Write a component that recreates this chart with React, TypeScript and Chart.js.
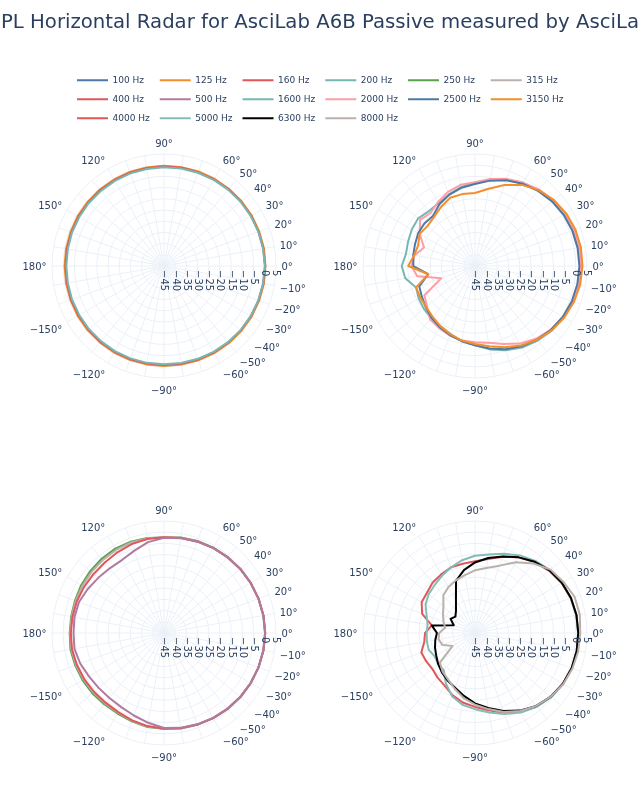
import React, { useEffect, useRef } from 'react';
import { Chart, registerables } from 'chart.js';

Chart.register(...registerables);

// ---------------- data ----------------
const TITLE = 'SPL Horizontal Radar for AsciLab A6B Passive measured by AsciLab';

// measurement angles (degrees), values below follow this order
const THETA = [-180, -170, -160, -150, -140, -130, -120, -110, -100, -90, -80, -70, -60, -50, -40, -30, -20, -10,
  0, 10, 20, 30, 40, 50, 60, 70, 80, 90, 100, 110, 120, 130, 140, 150, 160, 170];

const R_MIN = -45;
const R_MAX = 5;
const R_STEP = 5;
const ANGULAR_TICKS = [0, 10, 20, 30, 40, 50, 60, 90, 120, 150, 180, -150, -120, -90, -60, -50, -40, -30, -20, -10];

const FREQUENCIES = ['100 Hz', '125 Hz', '160 Hz', '200 Hz', '250 Hz', '315 Hz', '400 Hz', '500 Hz', '1600 Hz',
  '2000 Hz', '2500 Hz', '3150 Hz', '4000 Hz', '5000 Hz', '6300 Hz', '8000 Hz'];

const SPL_100 = [-0.9, -0.9, -0.8, -0.8, -0.7, -0.7, -0.7, -0.6, -0.7, -0.7, -0.6, -0.5, -0.4, -0.3, -0.2, -0.1, 0.0, 0.1,
  0.2, 0.1, 0.0, -0.1, -0.1, -0.2, -0.3, -0.4, -0.5, -0.5, -0.6, -0.6, -0.7, -0.7, -0.8, -0.8, -0.9, -0.9];
const SPL_125 = [-0.6, -0.6, -0.6, -0.5, -0.5, -0.5, -0.4, -0.4, -0.4, -0.4, -0.3, -0.2, -0.1, 0.0, 0.1, 0.2, 0.2, 0.3,
  0.3, 0.3, 0.2, 0.2, 0.1, 0.0, 0.0, -0.1, -0.2, -0.2, -0.3, -0.3, -0.4, -0.4, -0.5, -0.5, -0.6, -0.6];
const SPL_160 = [-1.0, -1.0, -0.9, -0.9, -0.9, -0.8, -0.8, -0.8, -0.8, -0.8, -0.7, -0.6, -0.5, -0.4, -0.3, -0.2, -0.1, 0.0,
  0.1, 0.0, -0.1, -0.1, -0.2, -0.3, -0.4, -0.5, -0.5, -0.6, -0.7, -0.7, -0.8, -0.8, -0.9, -0.9, -1.0, -1.0];
const SPL_200 = [-1.4, -1.4, -1.3, -1.3, -1.2, -1.2, -1.1, -1.1, -1.1, -1.1, -1.0, -0.9, -0.7, -0.6, -0.4, -0.3, -0.2, -0.1,
  0.0, -0.1, -0.2, -0.3, -0.4, -0.5, -0.6, -0.7, -0.8, -0.9, -1.0, -1.0, -1.1, -1.2, -1.2, -1.3, -1.3, -1.4];

const SPL_250 = [-2.9, -2.6, -2.8, -3.0, -3.2, -3.5, -3.5, -3.0, -2.4, -2.2, -1.7, -1.4, -1.1, -0.8, -0.5, -0.3, -0.1, 0.0,
  0.1, 0.0, -0.1, -0.3, -0.5, -0.8, -1.0, -1.3, -1.7, -2.4, -1.9, -1.6, -1.5, -1.7, -2.0, -2.3, -2.7, -2.9];
const SPL_315 = [-3.1, -3.0, -3.2, -3.5, -3.8, -4.0, -3.9, -3.3, -2.6, -2.2, -1.8, -1.5, -1.1, -0.8, -0.5, -0.3, -0.1, 0.0,
  0.1, 0.0, -0.1, -0.3, -0.5, -0.8, -1.1, -1.4, -1.8, -2.3, -2.1, -2.0, -2.2, -2.5, -2.7, -2.9, -3.0, -3.1];
const SPL_400 = [-3.4, -3.3, -3.6, -3.9, -4.2, -4.4, -4.2, -3.5, -2.8, -2.3, -1.9, -1.5, -1.1, -0.8, -0.5, -0.3, -0.1, 0.1,
  0.2, 0.1, -0.1, -0.3, -0.5, -0.8, -1.1, -1.5, -1.9, -2.3, -2.4, -2.8, -3.4, -3.9, -4.0, -3.8, -3.6, -3.5];
const SPL_500 = [-4.6, -4.4, -5.2, -6.3, -6.9, -7.1, -6.8, -5.8, -4.3, -2.6, -2.0, -1.6, -1.2, -0.9, -0.6, -0.3, -0.1, 0.1,
  0.2, 0.1, -0.1, -0.3, -0.6, -0.9, -1.2, -1.6, -2.0, -2.5, -3.8, -6.0, -7.4, -7.3, -6.7, -5.7, -4.6, -4.4];

const SPL_1600 = [-12.3, -13.4, -17.0, -16.0, -15.2, -14.6, -14.0, -12.8, -11.0, -9.6, -7.2, -5.0, -3.0, -1.5, -0.2, 0.9, 1.6, 2.0,
  2.2, 2.1, 1.8, 1.2, 0.3, -0.9, -2.3, -3.9, -5.8, -7.8, -9.2, -11.0, -12.6, -13.0, -11.9, -12.4, -13.2, -13.7];
const SPL_2000 = [-16.7, -18.8, -29.0, -18.9, -17.1, -13.8, -13.0, -12.0, -11.2, -11.0, -10.2, -8.0, -5.0, -2.6, -0.8, 0.6, 1.5, 2.0,
  2.2, 2.3, 2.1, 1.6, 0.7, -0.5, -2.0, -3.6, -5.6, -7.6, -8.2, -9.8, -12.0, -14.1, -13.0, -16.5, -20.8, -17.6];
const SPL_2500 = [-17.5, -23.8, -18.5, -17.6, -16.3, -14.8, -13.5, -12.2, -10.9, -9.6, -7.6, -5.5, -3.6, -2.0, -0.7, 0.3, 1.0, 1.4,
  1.6, 1.5, 1.2, 0.7, -0.1, -1.2, -2.6, -4.3, -6.3, -8.4, -9.6, -11.2, -13.2, -15.8, -15.5, -15.7, -16.5, -17.0];
const SPL_3150 = [-15.2, -23.8, -17.0, -16.8, -16.5, -15.5, -14.0, -12.6, -11.2, -10.2, -8.6, -6.4, -4.0, -2.0, -0.3, 1.0, 2.0, 2.7,
  3.0, 3.0, 2.7, 2.0, 0.9, -0.8, -3.2, -6.5, -10.0, -12.4, -12.4, -12.6, -14.6, -16.5, -17.3, -16.4, -18.0, -17.4];

const SPL_4000 = [-22.7, -22.0, -19.5, -19.8, -20.1, -19.0, -17.9, -15.5, -13.5, -12.0, -10.0, -7.0, -4.5, -2.3, -0.8, 0.3, 0.9, 1.1,
  1.1, 1.0, 0.5, -0.4, -1.8, -3.6, -6.0, -8.8, -11.5, -13.0, -13.6, -13.8, -14.8, -15.6, -17.0, -17.5, -19.9, -25.4];
const SPL_5000 = [-23.4, -23.2, -23.0, -24.2, -23.5, -23.3, -19.0, -15.0, -12.5, -11.0, -9.0, -6.5, -4.0, -2.0, -0.5, 0.5, 1.0, 1.1,
  1.0, 0.9, 0.6, -0.1, -1.3, -3.0, -5.0, -7.3, -9.4, -10.5, -12.0, -13.8, -15.5, -17.0, -18.0, -19.5, -22.0, -23.5];
const SPL_6300 = [-28.0, -27.0, -26.0, -25.0, -23.5, -22.0, -20.5, -19.0, -16.5, -13.6, -11.0, -8.0, -5.0, -2.5, -0.8, 0.3, 0.9, 1.1,
  1.1, 1.0, 0.6, -0.2, -1.5, -3.5, -6.0, -8.6, -11.0, -13.5, -16.5, -20.2, -28.0, -31.8, -33.6, -32.4, -34.9, -25.4];
const SPL_8000 = [-29.0, -28.5, -29.5, -33.5, -24.5, -22.5, -21.0, -18.5, -15.5, -13.0, -10.5, -7.5, -4.8, -2.5, -0.8, 0.5, 1.3, 1.8,
  2.0, 2.5, 2.3, 0.6, -1.0, -4.5, -8.5, -13.0, -15.5, -17.0, -18.8, -20.0, -21.3, -23.0, -26.6, -28.5, -30.0, -31.5];

const SERIES: Record<string, number[]> = {
  '100 Hz': SPL_100, '125 Hz': SPL_125, '160 Hz': SPL_160, '200 Hz': SPL_200,
  '250 Hz': SPL_250, '315 Hz': SPL_315, '400 Hz': SPL_400, '500 Hz': SPL_500,
  '1600 Hz': SPL_1600, '2000 Hz': SPL_2000, '2500 Hz': SPL_2500, '3150 Hz': SPL_3150,
  '4000 Hz': SPL_4000, '5000 Hz': SPL_5000, '6300 Hz': SPL_6300, '8000 Hz': SPL_8000,
};

const PANEL_FREQUENCIES = [
  ['100 Hz', '125 Hz', '160 Hz', '200 Hz'],
  ['1600 Hz', '2000 Hz', '2500 Hz', '3150 Hz'],
  ['250 Hz', '315 Hz', '400 Hz', '500 Hz'],
  ['4000 Hz', '5000 Hz', '6300 Hz', '8000 Hz'],
];

// ---------------- style ----------------
const COLORS: Record<string, string> = {
  '100 Hz': '#4e79a7', '125 Hz': '#f28e2b', '160 Hz': '#e15759', '200 Hz': '#76b7b2',
  '250 Hz': '#59a14f', '315 Hz': '#bab0ac', '400 Hz': '#e15759', '500 Hz': '#b07aa1',
  '1600 Hz': '#76b7b2', '2000 Hz': '#ff9da7', '2500 Hz': '#4e79a7', '3150 Hz': '#f28e2b',
  '4000 Hz': '#e15759', '5000 Hz': '#86bcb6', '6300 Hz': '#000000', '8000 Hz': '#bab0ac',
};
const FONT = "'DejaVu Sans', Verdana, sans-serif";
const TEXT_COLOR = '#2a3f5f';
const GRID_COLOR = '#ebf0f8';
const TICK_FS = 10;
const ANG_PAD = 5.5;
const RAD_PAD = 4;
const PANEL_CENTERS = [[164, 266], [475, 266], [164, 633], [475, 633]];
const PANEL_SIZE = 300;
const PANEL_PAD = 38;

// radar index order: index 0 at the right (0 deg), then clockwise (decreasing plotly angle)
const norm = (a: number) => ((a % 360) + 360) % 360;
const RADAR_THETA = [...THETA].sort((a, b) => norm(-a) - norm(-b));

const fmtNum = (v: number) => (v < 0 ? '\u2212' + Math.abs(v) : String(v));

const polarTextPlugin = {
  id: 'polarText',
  afterDraw(chart: any) {
    const s = chart.scales.r;
    const ctx = chart.ctx;
    const R = s.drawingArea;
    ctx.save();
    ctx.fillStyle = TEXT_COLOR;
    ctx.font = `${TICK_FS}px ${FONT}`;
    ctx.textBaseline = 'alphabetic';
    ANGULAR_TICKS.forEach((theta) => {
      const idx = RADAR_THETA.findIndex((t) => norm(t - theta) === 0);
      const p = s.getPointPosition(idx, R);
      const rad = (theta * Math.PI) / 180;
      const c = Math.cos(rad);
      const sn = Math.sin(rad);
      const ff = sn > 0 ? 0.2 : 1;
      const x = p.x + c * ANG_PAD;
      const y = p.y - sn * (ANG_PAD + TICK_FS * ff) + Math.abs(c) * TICK_FS * 0.35;
      ctx.textAlign = Math.abs(c) < 0.1 ? 'center' : c > 0 ? 'left' : 'right';
      ctx.fillText(fmtNum(theta) + '\u00b0', x, y);
    });
    const idx0 = RADAR_THETA.indexOf(0);
    s.ticks.forEach((tick: any) => {
      const d = s.getDistanceFromCenterForValue(tick.value);
      const p = s.getPointPosition(idx0, d);
      ctx.save();
      ctx.translate(p.x, p.y + RAD_PAD);
      ctx.rotate(Math.PI / 2);
      ctx.textAlign = 'left';
      ctx.textBaseline = 'middle';
      ctx.fillText(fmtNum(tick.value), 0, 0);
      ctx.restore();
    });
    ctx.restore();
  },
};

function radarConfig(freqs: string[]): any {
  return {
    type: 'radar',
    data: {
      labels: RADAR_THETA.map((t) => String(t)),
      datasets: freqs.map((f, i) => ({
        label: f,
        data: RADAR_THETA.map((t) => SERIES[f][THETA.indexOf(t)]),
        borderColor: COLORS[f],
        backgroundColor: COLORS[f],
        borderWidth: 2,
        borderJoinStyle: 'round',
        fill: false,
        pointRadius: 0,
        order: -i,
      })),
    },
    options: {
      responsive: false,
      animation: false,
      events: [],
      layout: { padding: PANEL_PAD },
      plugins: { legend: { display: false }, title: { display: false }, tooltip: { enabled: false } },
      elements: { line: { tension: 0 } },
      scales: {
        r: {
          min: R_MIN,
          max: R_MAX,
          startAngle: 90,
          beginAtZero: false,
          ticks: { display: false, stepSize: R_STEP },
          pointLabels: { display: false },
          grid: { circular: true, color: GRID_COLOR, lineWidth: 1 },
          angleLines: { display: true, color: GRID_COLOR, lineWidth: 1 },
        },
      },
    },
    plugins: [polarTextPlugin],
  };
}

const titleConfig: any = {
  type: 'line',
  data: { labels: [], datasets: [] },
  options: {
    responsive: false,
    animation: false,
    events: [],
    scales: { x: { display: false }, y: { display: false } },
    plugins: {
      legend: { display: false },
      tooltip: { enabled: false },
      title: {
        display: true,
        text: TITLE,
        color: TEXT_COLOR,
        font: { family: FONT, size: 19.7, weight: 'normal', lineHeight: 1.2 },
        padding: { top: 11, bottom: 4 },
      },
    },
  },
};

const legendConfig: any = {
  type: 'line',
  data: {
    labels: [],
    datasets: FREQUENCIES.map((f) => ({
      label: f.padEnd(7, '\u2007'),
      data: [],
      borderColor: COLORS[f],
      pointBorderColor: COLORS[f],
      backgroundColor: COLORS[f],
      borderWidth: 2,
      pointBorderWidth: 2,
      pointRadius: 0,
    })),
  },
  options: {
    responsive: false,
    animation: false,
    events: [],
    layout: { padding: { left: 67, right: 40, top: 65.8, bottom: 0 } },
    scales: { x: { display: false }, y: { display: false } },
    plugins: {
      title: { display: false },
      tooltip: { enabled: false },
      legend: {
        display: true,
        position: 'top',
        align: 'start',
        labels: {
          usePointStyle: true,
          pointStyle: 'line',
          pointStyleWidth: 31,
          color: TEXT_COLOR,
          font: { family: FONT, size: 9 },
          padding: 10,
        },
      },
    },
  },
};

export default function App() {
  const titleRef = useRef<HTMLCanvasElement>(null);
  const legendRef = useRef<HTMLCanvasElement>(null);
  const panelRefs = [useRef<HTMLCanvasElement>(null), useRef<HTMLCanvasElement>(null),
    useRef<HTMLCanvasElement>(null), useRef<HTMLCanvasElement>(null)];

  useEffect(() => {
    const charts: Chart[] = [];
    if (titleRef.current) charts.push(new Chart(titleRef.current, titleConfig));
    if (legendRef.current) charts.push(new Chart(legendRef.current, legendConfig));
    panelRefs.forEach((ref, i) => {
      if (ref.current) charts.push(new Chart(ref.current, radarConfig(PANEL_FREQUENCIES[i])));
    });
    return () => charts.forEach((c) => c.destroy());
  }, []);

  return (
    <div style={{ position: 'absolute', left: 0, top: 0, width: 640, height: 800, overflow: 'hidden', background: '#ffffff' }}>
      <canvas ref={titleRef} width={720} height={50} style={{ position: 'absolute', left: -40, top: 0 }} />
      <canvas ref={legendRef} width={640} height={320} style={{ position: 'absolute', left: 0, top: 0 }} />
      {panelRefs.map((ref, i) => (
        <canvas
          key={i}
          ref={ref}
          width={PANEL_SIZE}
          height={PANEL_SIZE}
          style={{
            position: 'absolute',
            left: PANEL_CENTERS[i][0] - PANEL_SIZE / 2,
            top: PANEL_CENTERS[i][1] - PANEL_SIZE / 2,
          }}
        />
      ))}
    </div>
  );
}
